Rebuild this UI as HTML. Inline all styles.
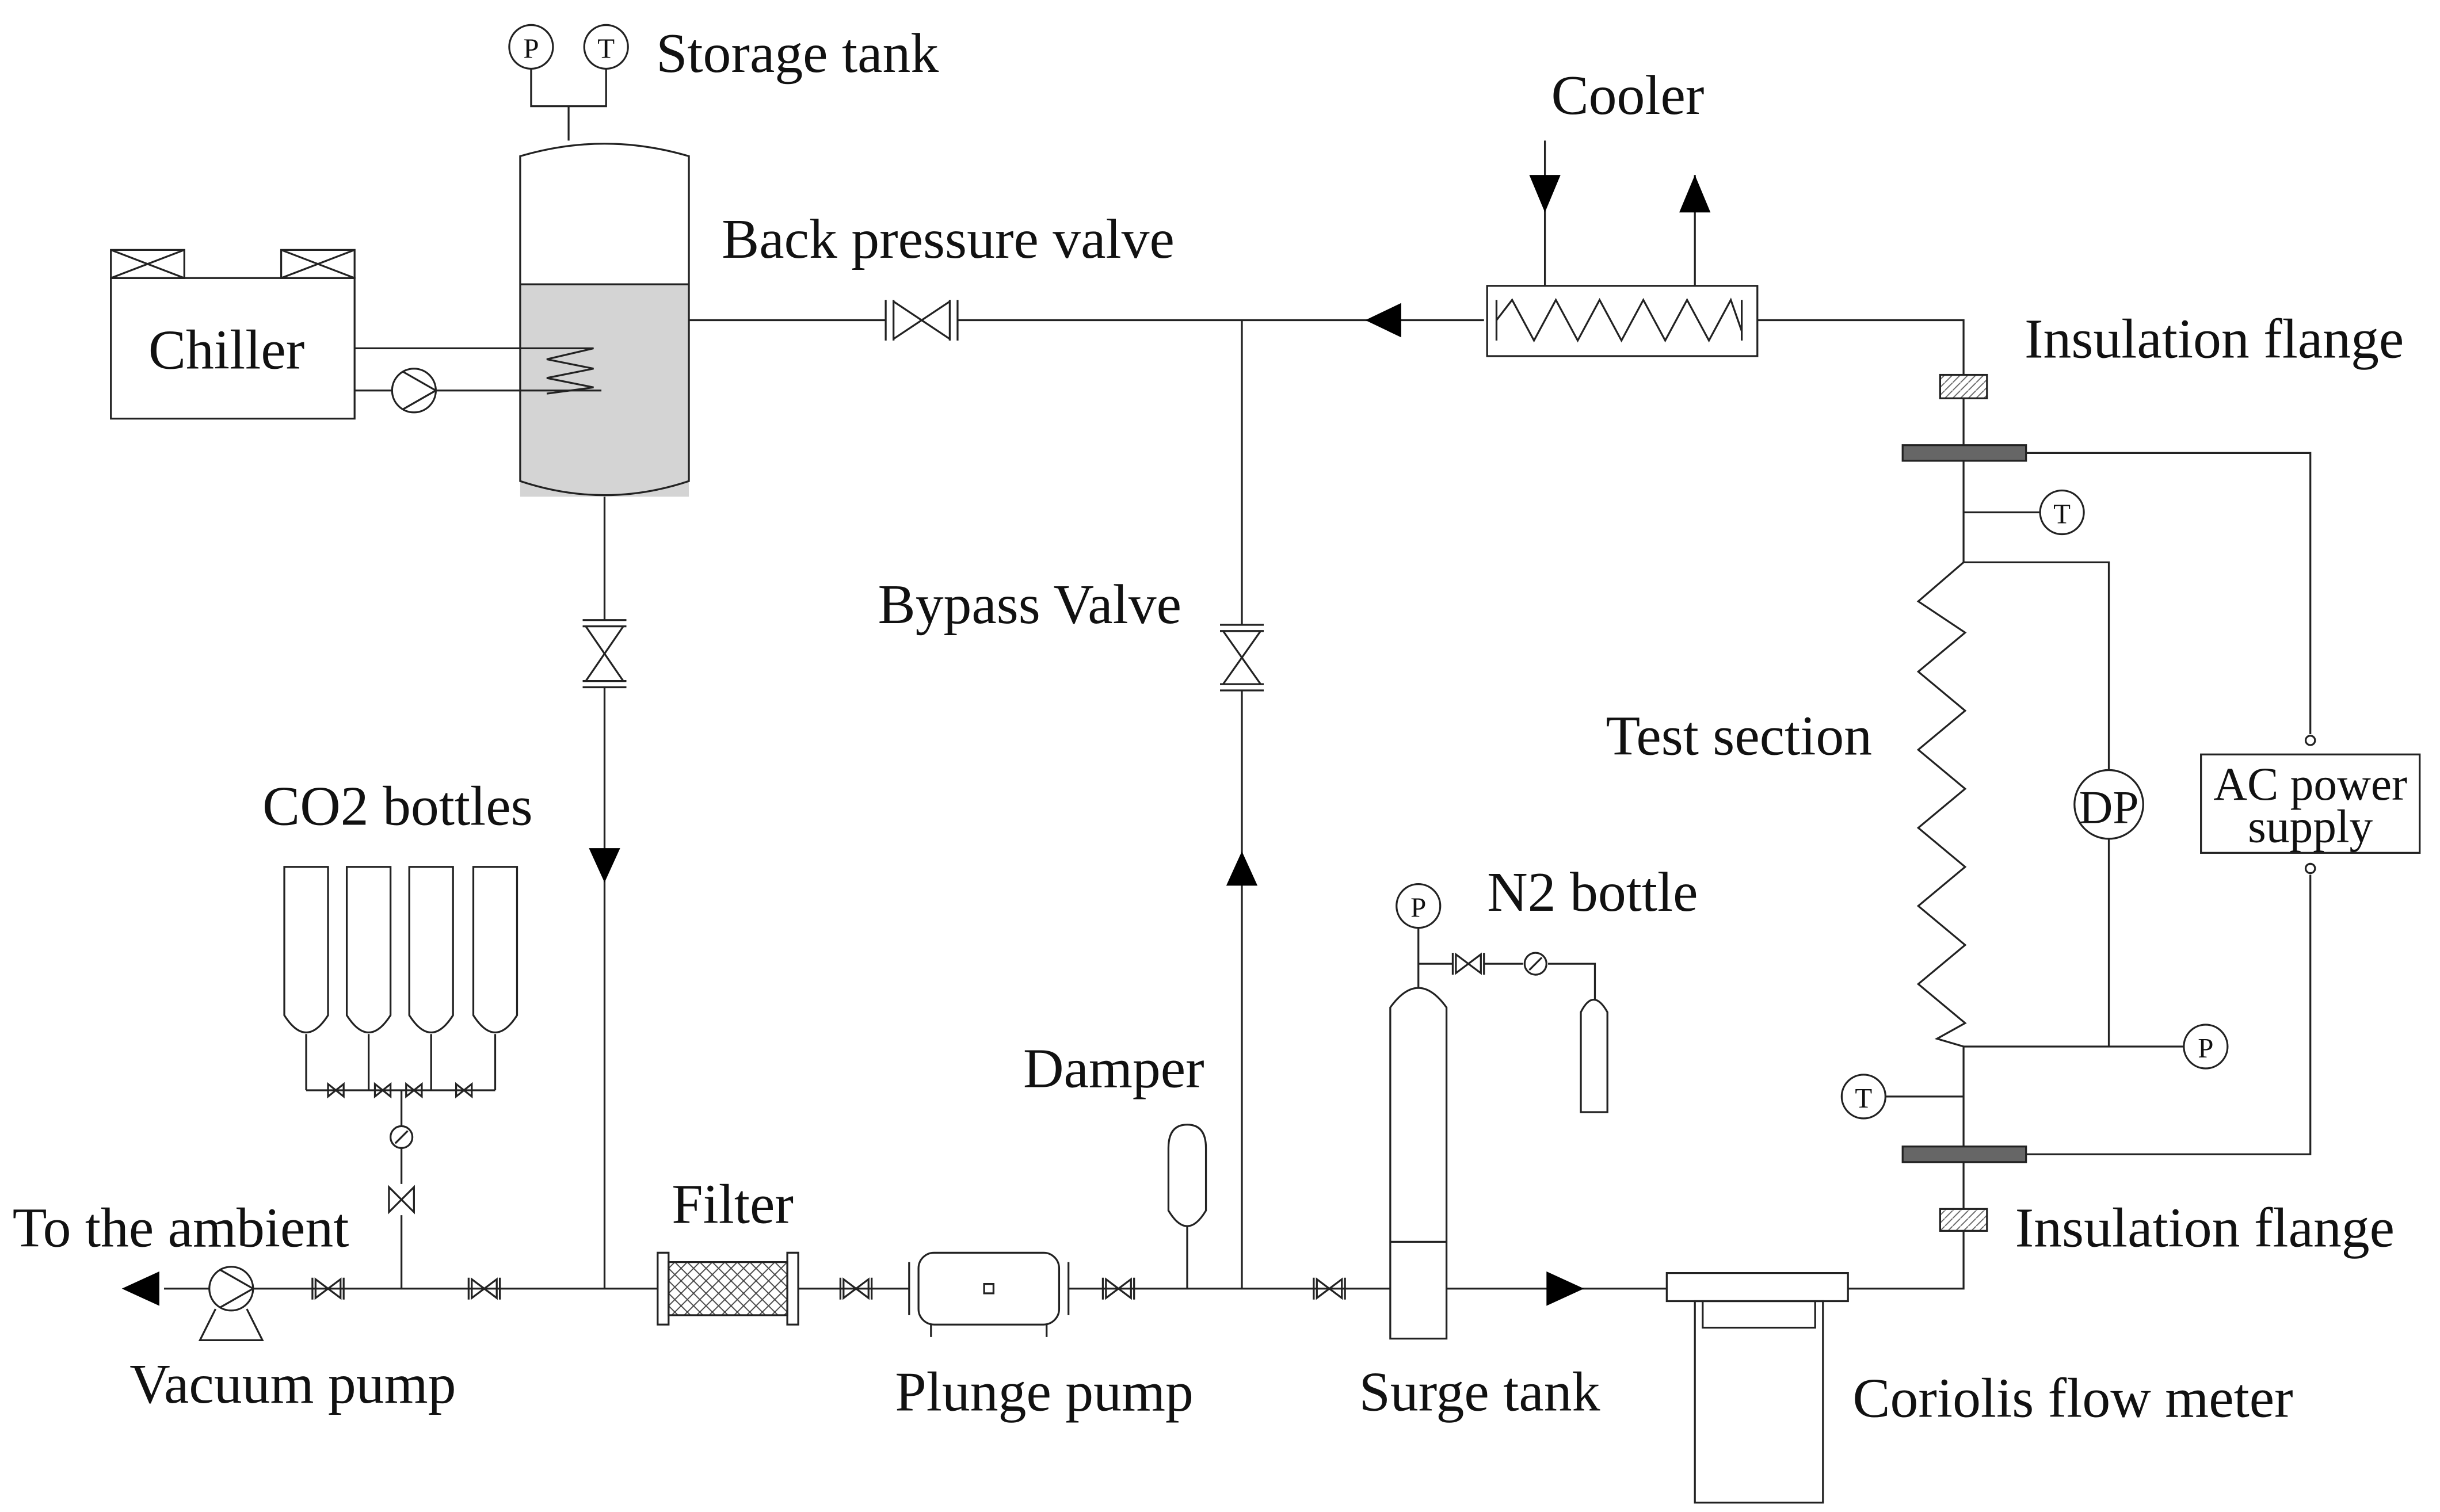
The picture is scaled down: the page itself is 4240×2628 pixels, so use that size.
<!DOCTYPE html>
<html><head><meta charset="utf-8"><style>
html,body{margin:0;padding:0;background:#fff;}
svg{display:block;}
text{font-family:"Liberation Serif",serif;fill:#111;}
</style></head><body>
<svg width="4240" height="2628" viewBox="0 0 1562 968" preserveAspectRatio="none" xmlns="http://www.w3.org/2000/svg">
<defs>
<pattern id="hx" width="8" height="8" patternUnits="userSpaceOnUse">
<path d="M0 0L8 8M8 0L0 8" stroke="#444" stroke-width="0.7"/></pattern>
<pattern id="hs" width="5" height="5" patternUnits="userSpaceOnUse">
<path d="M0 5L5 0" stroke="#666" stroke-width="0.7"/></pattern>
</defs>
<g fill="none" stroke="#222" stroke-width="1.2">
<circle cx="340" cy="30" r="14"/><circle cx="388" cy="30" r="14"/>
<path d="M340 44V68H388V44M364 68V90"/>
<path d="M333 318V182H441V318Z" fill="#d4d4d4" stroke="none"/>
<path d="M333 100Q387 84 441 100V308Q387 326 333 308Z"/>
<path d="M333 182H441"/>
<rect x="71" y="178" width="156" height="90"/>
<rect x="71" y="160" width="47" height="18"/><path d="M71 160L118 178M118 160L71 178"/>
<rect x="180" y="160" width="47" height="18"/><path d="M180 160L227 178M227 160L180 178"/>
<path d="M227 223H380L350 230L380 236L350 242L380 248L350 252"/>
<path d="M227 250H251M279 250H385"/>
<circle cx="265" cy="250" r="14"/><path d="M258 238L279 250L258 262"/>
<path d="M441 205H567M613 205H950"/>
<path d="M567 192V218M572 192V218M608 192V218M613 192V218M572 193L608 217V193L572 217Z"/>
<rect x="952" y="183" width="173" height="45"/>
<path d="M958 205L968 192L982 218L996 192L1010 218L1024 192L1038 218L1052 192L1066 218L1080 192L1094 218L1108 192L1115 212"/>
<path d="M958 192V218M1115 192V218"/>
<path d="M989 90V183M1085 112V183"/>
<path d="M1125 205H1257V240M1257 255V285M1257 295V360"/>
<rect x="1242" y="240" width="30" height="15" fill="url(#hs)"/>
<rect x="1218" y="285" width="79" height="10" fill="#666"/>
<path d="M1257 328H1306"/><circle cx="1320" cy="328" r="14"/>
<path d="M1257 360L1228 385L1258 405L1228 430L1258 455L1228 480L1258 505L1228 530L1258 555L1228 580L1258 605L1228 630L1258 655L1240 665L1257 670"/>
<path d="M1257 360H1350V493M1350 537V670M1257 670H1398"/>
<circle cx="1350" cy="515" r="22"/><circle cx="1412" cy="670" r="14"/>
<path d="M1257 670V734M1257 744V774M1257 788V825H1183"/>
<path d="M1207 702H1257"/><circle cx="1193" cy="702" r="14"/>
<rect x="1218" y="734" width="79" height="10" fill="#666"/>
<rect x="1242" y="774" width="30" height="14" fill="url(#hs)"/>
<path d="M1297 290H1479V470M1479 560V739H1297"/>
<circle cx="1479" cy="474" r="3"/><circle cx="1479" cy="556" r="3"/>
<rect x="1409" y="483" width="140" height="63"/>
<path d="M795 205V400M795 442V825"/>
<path d="M781 400H809M781 404H809M781 438H809M781 442H809M783 404L807 438H783L807 404Z"/>
<path d="M387 318V397M387 440V825"/>
<path d="M373 397H401M373 401H401M373 436H401M373 440H401M375 401L399 436H375L399 401Z"/>
<path d="M105 825H134M162 825H421M511 825H582M684 825H890M926 825H1067"/>
<circle cx="148" cy="825" r="14"/><path d="M141 813L162 825L141 837"/>
<path d="M138 838L128 858H168L158 838"/>
<path d="M200 818V832M220 818V832M202 819L218 831V819L202 831Z"/>
<path d="M300 818V832M320 818V832M302 819L318 831V819L302 831Z"/>
<path d="M538 818V832M558 818V832M540 819L556 831V819L540 831Z"/>
<path d="M706 818V832M726 818V832M708 819L724 831V819L708 831Z"/>
<path d="M841 818V832M861 818V832M843 819L859 831V819L843 831Z"/>
<path d="M257 825V778M257 758V735M257 721V698M196 698H317"/>
<path d="M249 760L265 776V760L249 776Z"/>
<circle cx="257" cy="728" r="7"/><path d="M253 732L261 724"/>
<path d="M182 555H210V650Q196 672 182 650Z"/>
<path d="M222 555H250V650Q236 672 222 650Z"/>
<path d="M262 555H290V650Q276 672 262 650Z"/>
<path d="M303 555H331V650Q317 672 303 650Z"/>
<path d="M196 662V698M236 662V698M276 662V698M317 662V698"/>
<path d="M210 694L220 702V694L210 702ZM240 694L250 702V694L240 702ZM260 694L270 702V694L260 702ZM292 694L302 702V694L292 702Z"/>
<rect x="428" y="808" width="76" height="34" fill="url(#hx)"/>
<rect x="421" y="802" width="7" height="46"/><rect x="504" y="802" width="7" height="46"/>
<rect x="588" y="802" width="90" height="46" rx="10"/>
<path d="M582 808V842M684 808V842M596 848V856M670 848V856"/>
<rect x="630" y="822" width="6" height="6"/>
<path d="M760 795V825M760 795V785"/>
<path d="M748 735Q748 720 760 720Q772 720 772 735V775Q760 795 748 775Z"/>
<path d="M890 857V645Q908 620 926 645V857Z"/>
<path d="M890 795H926"/>
<path d="M908 594V632M908 617H930M950 617H975M991 617H1021V640"/>
<circle cx="908" cy="580" r="14"/>
<path d="M930 610V624M950 610V624M932 611L948 623V611L932 623Z"/>
<circle cx="983" cy="617" r="7"/><path d="M979 621L987 613"/>
<path d="M1012 712V648Q1020 632 1029 648V712Z"/>
<rect x="1067" y="815" width="116" height="18"/>
<rect x="1085" y="833" width="82" height="129"/>
<path d="M1090 833V850H1162V833"/>
</g>
<g fill="#000">
<path d="M874 205L897 194V216Z"/>
<path d="M979 112H999L989 136Z"/><path d="M1075 136H1095L1085 112Z"/>
<path d="M377 543H397L387 565Z"/>
<path d="M785 567H805L795 545Z"/>
<path d="M78 825L102 814V836Z"/>
<path d="M1014 825L990 814V836Z"/>
</g>
<g font-size="18" text-anchor="middle">
<text x="340" y="37">P</text><text x="388" y="37">T</text>
<text x="1320" y="335">T</text><text x="1412" y="677">P</text><text x="1193" y="709">T</text>
<text x="908" y="587">P</text>
</g>
<text x="1350" y="527" font-size="30" text-anchor="middle">DP</text>
<g font-size="36">
<text x="420" y="46">Storage tank</text>
<text x="993" y="73">Cooler</text>
<text x="462" y="165">Back pressure valve</text>
<text x="95" y="236">Chiller</text>
<text x="1296" y="229">Insulation flange</text>
<text x="562" y="399">Bypass Valve</text>
<text x="1028" y="483">Test section</text>
<text x="168" y="528">CO2 bottles</text>
<text x="952" y="583">N2 bottle</text>
<text x="655" y="696">Damper</text>
<text x="430" y="783">Filter</text>
<text x="8" y="798">To the ambient</text>
<text x="1290" y="798">Insulation flange</text>
<text x="83" y="898">Vacuum pump</text>
<text x="573" y="903">Plunge pump</text>
<text x="870" y="903">Surge tank</text>
<text x="1186" y="907">Coriolis flow meter</text>
</g>
<g font-size="30" text-anchor="middle">
<text x="1479" y="512">AC power</text>
<text x="1479" y="539">supply</text>
</g>
</svg>
</body></html>
